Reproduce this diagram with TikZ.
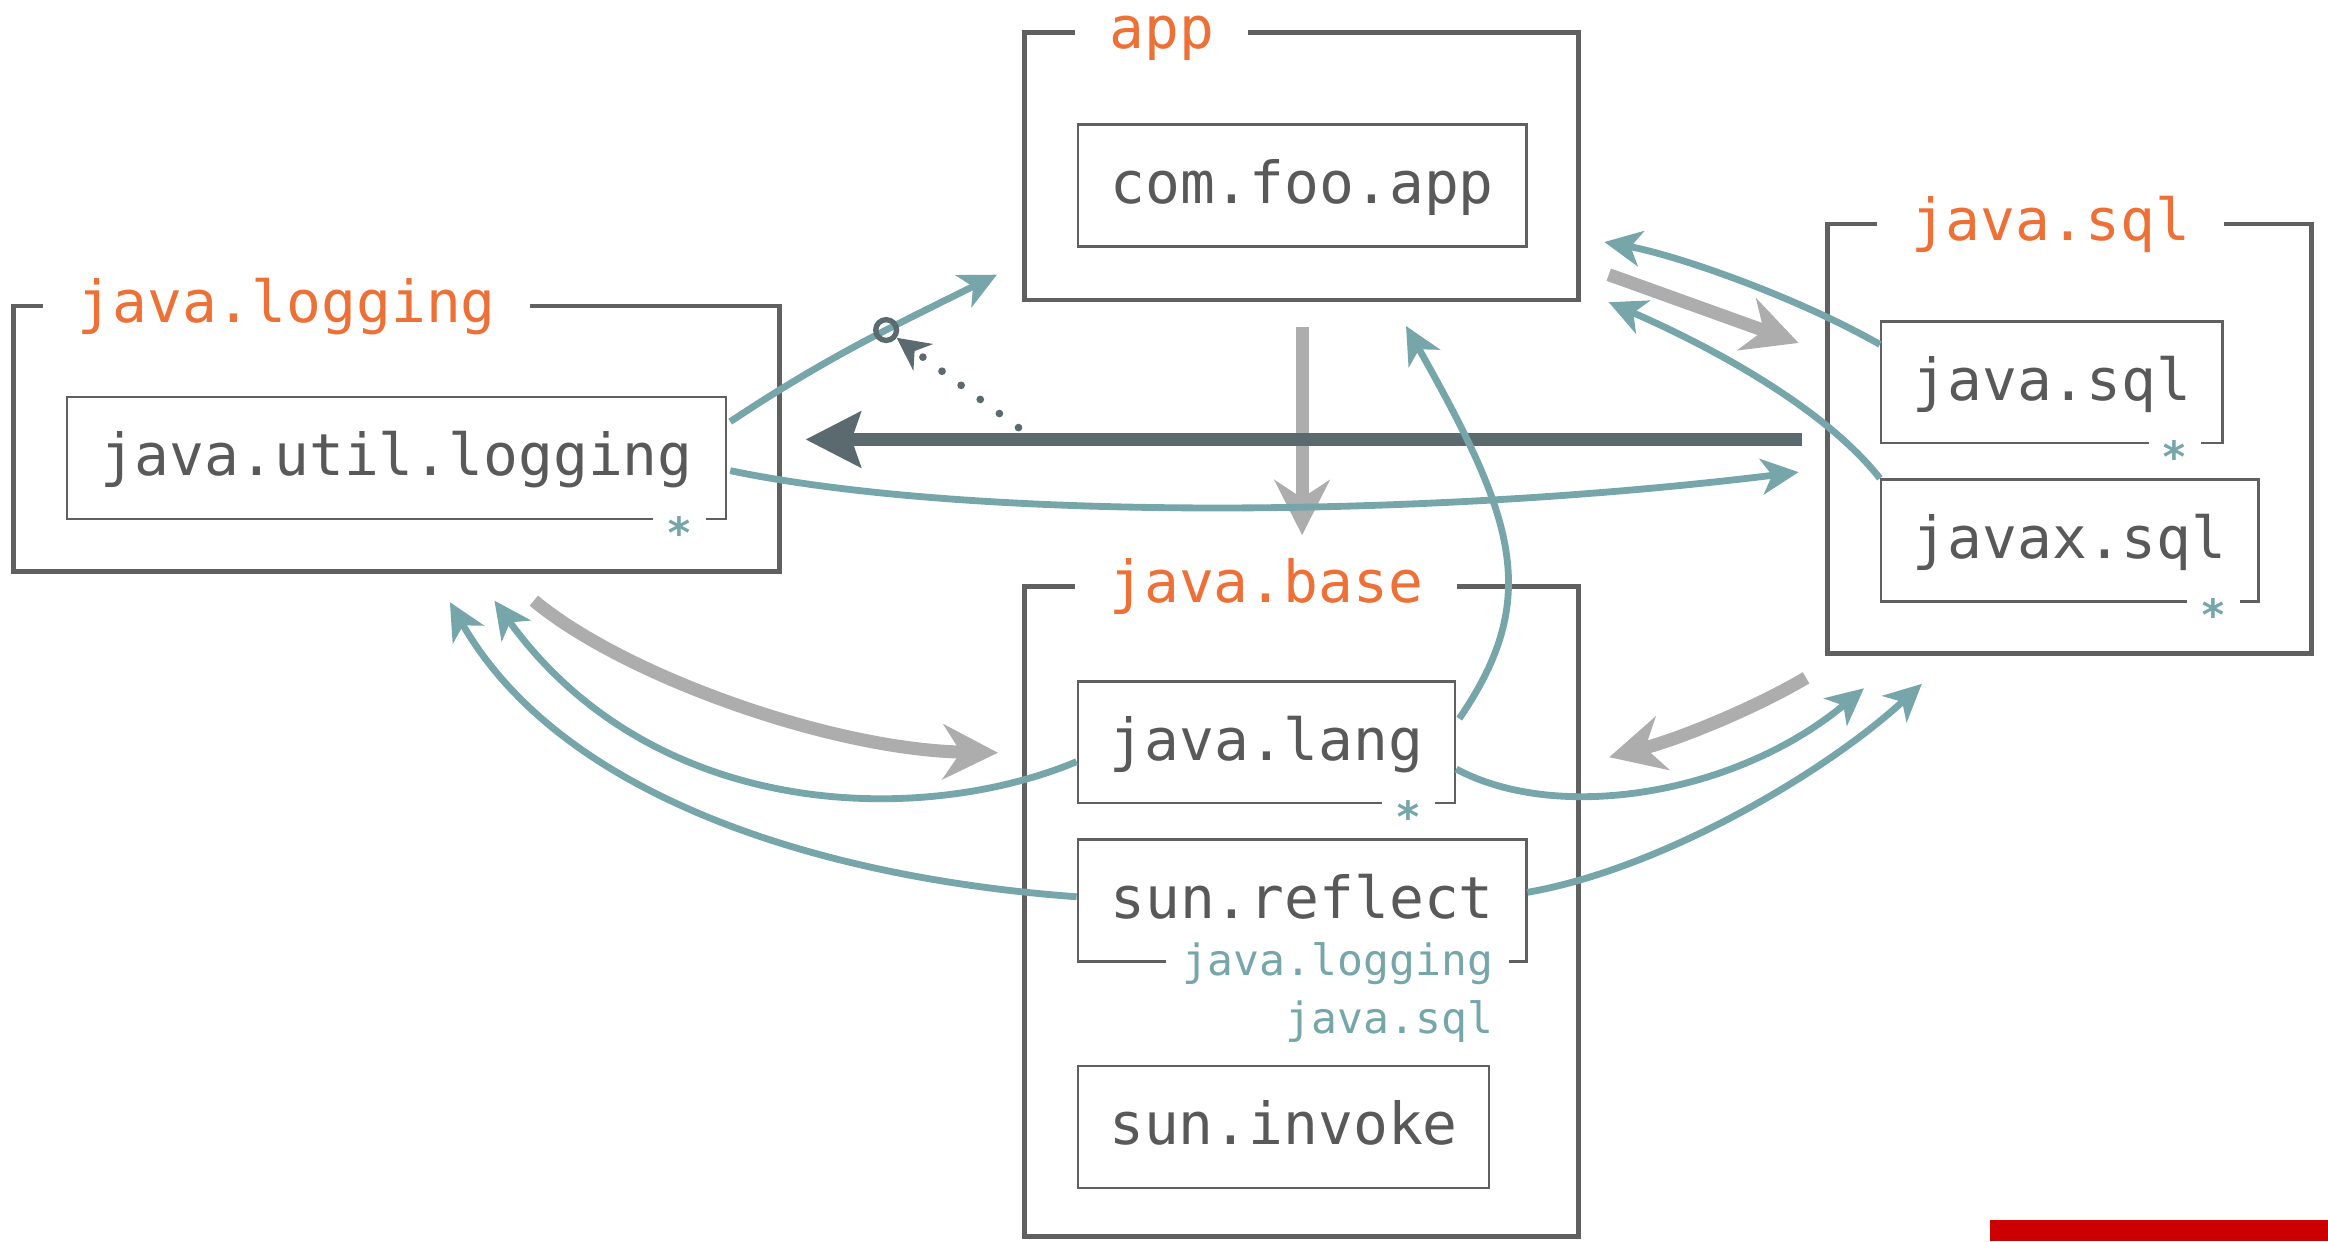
\documentclass[tikz,border=0pt]{standalone}
\usepackage{fontspec}
\setmonofont{DejaVu Sans Mono}
\usetikzlibrary{arrows.meta,calc}
\definecolor{boxc}{HTML}{606060}
\definecolor{txtc}{HTML}{595959}
\definecolor{orng}{HTML}{ED7137}
\definecolor{tealc}{HTML}{76A6A9}
\definecolor{grayc}{HTML}{ADADAD}
\definecolor{slatec}{HTML}{5A6A6F}
\definecolor{redc}{HTML}{CC0000}
\newcommand{\mbigtt}{\ttfamily\fontsize{39}{44}\selectfont}
\newcommand{\msmalltt}{\ttfamily\fontsize{29}{33}\selectfont}
\tikzset{
  modbox/.style={draw=boxc, line width=3.1pt, inner sep=0pt},
  pkgbox/.style={draw=boxc, line width=1.7pt, inner sep=0pt, font=\mbigtt, text=txtc, text height=32pt, text depth=8pt, minimum height=82pt},
  modtitle/.style={fill=white, inner xsep=23pt, inner ysep=0pt, font=\mbigtt, text=orng, anchor=base west, text height=32pt, text depth=8pt},
  starlbl/.style={fill=white, inner xsep=9pt, inner ysep=0pt, font=\msmalltt\bfseries, text=tealc, anchor=base},
  sublbl/.style={inner xsep=11pt, inner ysep=0pt, font=\msmalltt, text=tealc, anchor=base east},
  tealarr/.style={draw=tealc, line width=4.6pt, -{Stealth[length=25pt,width=24pt,inset=7pt]}},
  grayarr/.style={draw=grayc, line width=8.8pt, -{Stealth[length=37pt,width=37pt,inset=12pt]}},
  darkarr/.style={draw=slatec, line width=8.2pt, -{Stealth[length=37pt,width=37pt,inset=6pt]}},
  dotarr/.style={draw=slatec, line width=5.2pt, line cap=round, dash pattern=on 0pt off 16pt, -{Stealth[length=22pt,width=22pt,inset=7pt]}},
  ring/.style={circle, draw=slatec, line width=3.6pt, minimum size=14pt, inner sep=0pt},
}
\begin{document}
\begin{tikzpicture}[x=1pt,y=-1pt]
\useasboundingbox (0,0) rectangle (1568,836);
% module boxes
\node[modbox, minimum width=373pt, minimum height=180pt] (appmod) at (876.5,112) {};
\node[modbox, minimum width=516pt, minimum height=179pt] (logmod) at (267,295.5) {};
\node[modbox, minimum width=326pt, minimum height=289pt] (sqlmod) at (1394,295.5) {};
\node[modbox, minimum width=373pt, minimum height=438pt] (basemod) at (876.5,614) {};
% module titles
\node[modtitle] (apptitle) at (724,33) {app};
\node[modtitle] (logtitle) at (29,217) {java.logging};
\node[modtitle] (sqltitle) at (1264,162) {java.sql};
\node[modtitle] (basetitle) at (724,406) {java.base};
% packages
\node[pkgbox, minimum width=302pt] (comfoo) at (877,125) {com.foo.app};
\node[pkgbox, minimum width=444pt] (jul) at (267,308.5) {java.util.logging};
\node[pkgbox, minimum width=230pt] (jsql) at (1382,257.5) {java.sql};
\node[pkgbox, minimum width=254pt] (jxsql) at (1394,364) {javax.sql};
\node[pkgbox, minimum width=254pt] (jlang) at (853,500) {java.lang};
\node[pkgbox, minimum width=302pt] (srefl) at (877,606.5) {sun.reflect};
\node[pkgbox, minimum width=277pt] (sinv) at (864.5,759) {sun.invoke};
% export markers
\node[starlbl] (julstar) at ($(jul.south east)+(-32,19)$) {*};
\node[starlbl] (jsqlstar) at ($(jsql.south east)+(-33,19)$) {*};
\node[starlbl] (jxsqlstar) at ($(jxsql.south east)+(-31,19)$) {*};
\node[starlbl] (jlangstar) at ($(jlang.south east)+(-32,19)$) {*};
\node[sublbl, fill=white] (sreflto1) at ($(srefl.south east)+(-12,9)$) {java.logging};
\node[sublbl] (sreflto2) at ($(srefl.south east)+(-12,48)$) {java.sql};
% red bar
\fill[redc] (1340,822) rectangle (1568,836);
% gray arrows
\draw[grayarr] ($(appmod.south)+(0.5,17)$) -- ($(basemod.north)+(0.5,-33)$);
\draw[grayarr] ($(appmod.east)+(19,73)$) -- ($(sqlmod.west)+(-18,-64.5)$);
\draw[grayarr] ($(logmod.south east)+(-167,18)$) .. controls (420,455) and (560,505) .. ($(jlang.west)+(-53,7)$);
\draw[grayarr] ($(sqlmod.south west)+(-13,15)$) .. controls (1180,478) and (1130,498) .. ($(jlang.east)+(103,10)$);
% dark arrow
\draw[darkarr] ($(sqlmod.west)+(-16,0.5)$) -- ($(logmod.east)+(16,0.5)$);
% teal arrows
\draw[tealarr] ($(jul.east)+(2,-24.5)$) .. controls (558,240) and (601,220) .. ($(appmod.west)+(-17,73)$) node[ring, pos=0.6] (ring) {};
\draw[tealarr] ($(jul.east)+(2,8.5)$) .. controls (650,350) and (950,350) .. ($(sqlmod.west)+(-18,22.5)$);
\draw[tealarr] ($(jlang.east)+(2,-16)$) .. controls (1039,402) and (1020,349) .. ($(appmod.south)+(70.5,16)$);
\draw[tealarr] ($(jsql.west)+(0,-25.5)$) .. controls (1210,200) and (1130,172) .. ($(appmod.east)+(16,51)$);
\draw[tealarr] (jxsql.north west) .. controls (1225,270) and (1140,228) .. ($(appmod.south east)+(19,0)$);
\draw[tealarr] ($(jlang.west)+(0,13)$) .. controls (620,557) and (440,553) .. ($(logmod.south)+(66,18)$);
\draw[tealarr] ($(srefl.west)+(0,-2.5)$) .. controls (560,592) and (380,540) .. ($(logmod.south)+(36,19)$);
\draw[tealarr] ($(jlang.east)+(0,18)$) .. controls (1050,555) and (1170,535) .. ($(sqlmod.south west)+(26,22)$);
\draw[tealarr] ($(srefl.east)+(0,-5.5)$) .. controls (1120,585) and (1230,520) .. ($(sqlmod.south west)+(65,19)$);
% dotted arrow
\coordinate (dotstart) at (686,288);
\draw[dotarr] (dotstart) -- (ring);
\end{tikzpicture}
\end{document}
